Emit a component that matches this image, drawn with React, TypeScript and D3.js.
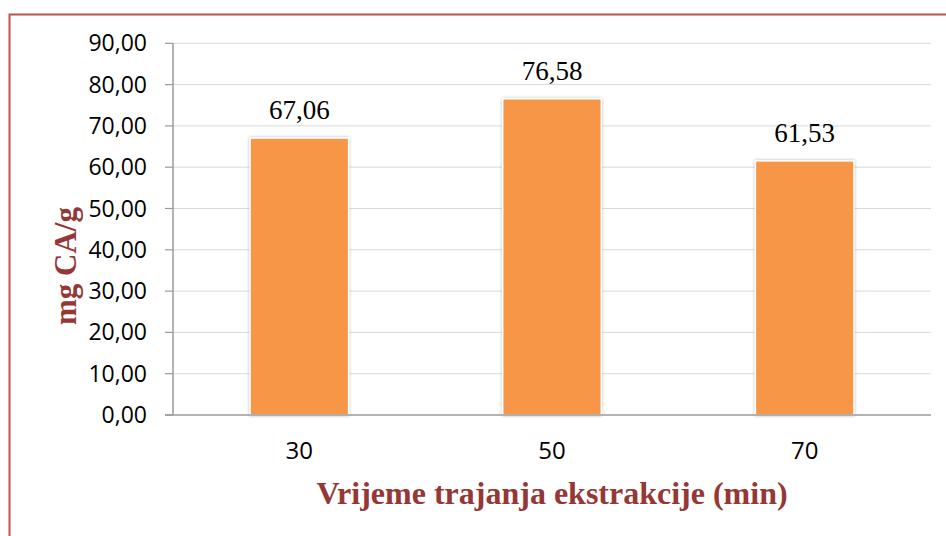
import * as d3 from 'd3';

const categories = ['30', '50', '70'];
const values = [67.06, 76.58, 61.53];
const yTicks = [0, 10, 20, 30, 40, 50, 60, 70, 80, 90];

export default function App() {
  const width = 946;
  const height = 536;
  const left = 173;
  const right = 931;
  const top = 43.3;
  const bottom = 415;

  const x = d3.scaleBand<string>().domain(categories).range([left, right]).paddingInner(0.61).paddingOuter(0.305);
  const y = d3.scaleLinear().domain([0, 90]).range([bottom, top]);
  const fmt = (v: number) => v.toFixed(2).replace('.', ',');

  return (
    <svg width={width} height={height} style={{ position: 'absolute', left: 0, top: 0, background: '#fff' }}>
      <defs>
        <filter id="sh" x="-10%" y="-10%" width="120%" height="120%">
          <feDropShadow dx="0" dy="0" stdDeviation="1.5" floodColor="#000" floodOpacity="0.3" />
        </filter>
      </defs>
      <rect x={9.5} y={14.5} width={960} height={560} fill="none" stroke="#C0504D" strokeWidth={2} />
      {yTicks.map(t => (
        <g key={t}>
          {t > 0 && <line x1={left} x2={right} y1={y(t)} y2={y(t)} stroke="#d9d9d9" strokeWidth={1} />}
          <line x1={left - 8} x2={left} y1={y(t)} y2={y(t)} stroke="#9a9a9a" strokeWidth={1.2} />
          <text x={left - 26} y={y(t)} dy="0.35em" textAnchor="end" fontFamily="Open Sans" fontSize={23} fill="#000">
            {fmt(t)}
          </text>
        </g>
      ))}
      {categories.map((c, i) => (
        <g key={c}>
          <rect x={x(c)} y={y(values[i])} width={x.bandwidth()} height={bottom - y(values[i])}
            fill="#F79646" stroke="#fff" strokeWidth={1.5} filter="url(#sh)" />
          <text x={(x(c) ?? 0) + x.bandwidth() / 2} y={y(values[i]) - 19} textAnchor="middle"
            fontFamily="Liberation Serif" fontSize={27} fill="#000">
            {fmt(values[i])}
          </text>
          <text x={(x(c) ?? 0) + x.bandwidth() / 2} y={459} textAnchor="middle"
            fontFamily="Open Sans" fontSize={24} fill="#000">
            {c}
          </text>
        </g>
      ))}
      <line x1={left} x2={left} y1={top} y2={bottom} stroke="#9a9a9a" strokeWidth={1.5} />
      <line x1={left - 8} x2={right} y1={bottom} y2={bottom} stroke="#9a9a9a" strokeWidth={1.5} />
      <text x={552} y={504} textAnchor="middle" fontFamily="Liberation Serif" fontWeight="bold" fontSize={32} fill="#953735">
        Vrijeme trajanja ekstrakcije (min)
      </text>
      <text transform="translate(76,266) rotate(-90)" textAnchor="middle" fontFamily="Liberation Serif" fontWeight="bold" fontSize={31} fill="#953735">
        mg CA/g
      </text>
    </svg>
  );
}
